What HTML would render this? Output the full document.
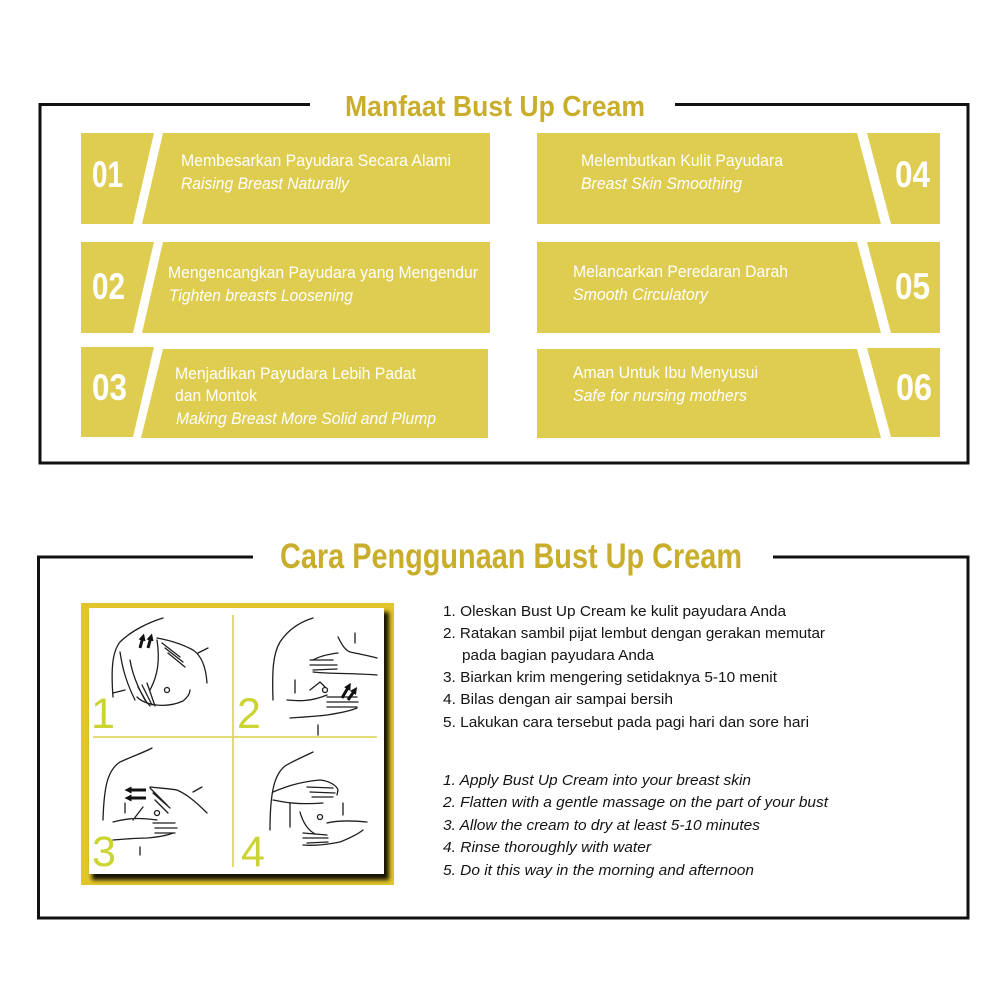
<!DOCTYPE html>
<html><head><meta charset="utf-8"><style>
html,body{margin:0;padding:0;background:#fff;}
svg{display:block;}
.t{font-family:"Liberation Sans",sans-serif;fill:#fff;font-size:17px;}
.i{font-style:italic;}
.n{font-family:"Liberation Sans",sans-serif;fill:#fff;font-weight:bold;font-size:37px;}
.h{font-family:"Liberation Sans",sans-serif;fill:#c9ae2c;font-weight:bold;}
.l{font-family:"Liberation Sans",sans-serif;fill:#141414;font-size:15px;}
.pn{font-family:"Liberation Sans",sans-serif;fill:#cbd431;font-size:43px;}
.d{fill:none;stroke:#1e1e1e;stroke-width:1.3;stroke-linecap:round;stroke-linejoin:round;}
</style></head><body>
<svg width="1000" height="1000" viewBox="0 0 1000 1000" xmlns="http://www.w3.org/2000/svg">
<defs>
<marker id="ah" markerWidth="2.4" markerHeight="2.4" refX="1.2" refY="1.2" orient="auto" markerUnits="strokeWidth">
<path d="M0,0 L2.4,1.2 L0,2.4 z" fill="#111"/></marker>
<filter id="blur" x="-10%" y="-10%" width="130%" height="130%"><feGaussianBlur stdDeviation="2"/></filter>
</defs>

<!-- TOP BOX -->
<g stroke="#111" stroke-width="3" fill="none">
<polyline points="310,104.5 40,104.5 40,463 968,463 968,104.5 675,104.5"/>
</g>
<text class="h" x="345" y="116" font-size="29" textLength="300" lengthAdjust="spacingAndGlyphs">Manfaat Bust Up Cream</text>

<g fill="#dfcd52">
<polygon points="81,133 154,133 133,224 81,224"/>
<polygon points="163,133 490,133 490,224 142,224"/>
<polygon points="81,242 154,242 133,333 81,333"/>
<polygon points="163,242 490,242 490,333 142,333"/>
<polygon points="81,347 154,347 133,437 81,437"/>
<polygon points="163,349 488,349 488,438 141,438"/>
<polygon points="537,133 857,133 881,224 537,224"/>
<polygon points="867,133 940,133 940,224 891,224"/>
<polygon points="537,242 857,242 881,333 537,333"/>
<polygon points="867,242 940,242 940,333 891,333"/>
<polygon points="537,349 857,349 881,438 537,438"/>
<polygon points="867,348 940,348 940,437 891,437"/>
</g>

<text class="n" x="92" y="187" textLength="31" lengthAdjust="spacingAndGlyphs">01</text>
<text class="n" x="92" y="299" textLength="33" lengthAdjust="spacingAndGlyphs">02</text>
<text class="n" x="92" y="400" textLength="35" lengthAdjust="spacingAndGlyphs">03</text>
<text class="n" x="895" y="187" textLength="35" lengthAdjust="spacingAndGlyphs">04</text>
<text class="n" x="895" y="299" textLength="35" lengthAdjust="spacingAndGlyphs">05</text>
<text class="n" x="896" y="400" textLength="36" lengthAdjust="spacingAndGlyphs">06</text>

<text class="t" x="181" y="166" textLength="270" lengthAdjust="spacingAndGlyphs">Membesarkan Payudara Secara Alami</text>
<text class="t i" x="181" y="189" textLength="168" lengthAdjust="spacingAndGlyphs">Raising Breast Naturally</text>

<text class="t" x="168" y="278" textLength="310" lengthAdjust="spacingAndGlyphs">Mengencangkan Payudara yang Mengendur</text>
<text class="t i" x="169" y="301" textLength="184" lengthAdjust="spacingAndGlyphs">Tighten breasts Loosening</text>

<text class="t" x="175" y="379" textLength="241" lengthAdjust="spacingAndGlyphs">Menjadikan Payudara Lebih Padat</text>
<text class="t" x="175" y="401" textLength="82" lengthAdjust="spacingAndGlyphs">dan Montok</text>
<text class="t i" x="176" y="424" textLength="260" lengthAdjust="spacingAndGlyphs">Making Breast More Solid and Plump</text>

<text class="t" x="581" y="166" textLength="202" lengthAdjust="spacingAndGlyphs">Melembutkan Kulit Payudara</text>
<text class="t i" x="581" y="189" textLength="161" lengthAdjust="spacingAndGlyphs">Breast Skin Smoothing</text>

<text class="t" x="573" y="277" textLength="215" lengthAdjust="spacingAndGlyphs">Melancarkan Peredaran Darah</text>
<text class="t i" x="573" y="300" textLength="135" lengthAdjust="spacingAndGlyphs">Smooth Circulatory</text>

<text class="t" x="573" y="378" textLength="185" lengthAdjust="spacingAndGlyphs">Aman Untuk Ibu Menyusui</text>
<text class="t i" x="573" y="401" textLength="174" lengthAdjust="spacingAndGlyphs">Safe for nursing mothers</text>

<!-- BOTTOM BOX -->
<g stroke="#111" stroke-width="3" fill="none">
<polyline points="253,557 38.5,557 38.5,918 968,918 968,557 773,557"/>
</g>
<text class="h" x="280" y="568" font-size="35" textLength="462" lengthAdjust="spacingAndGlyphs">Cara Penggunaan Bust Up Cream</text>

<rect x="81" y="603" width="313" height="282" fill="#e2c52a"/>
<rect x="92" y="612" width="297" height="268" fill="#000" filter="url(#blur)" opacity="0.9"/>
<rect x="89" y="608" width="295" height="266" fill="#fff"/>
<line x1="233" y1="615" x2="233" y2="867" stroke="#dcd24d" stroke-width="1.6"/>
<line x1="93" y1="737" x2="377" y2="737" stroke="#dcd24d" stroke-width="1.6"/>
<text class="pn" x="91" y="728">1</text>
<text class="pn" x="237" y="728">2</text>
<text class="pn" x="92" y="866">3</text>
<text class="pn" x="241" y="866">4</text>

<!-- panel 1 -->
<g class="d">
<path d="M163,618 C150,622 132,630 120,642 C112,652 111,670 113,697"/>
<path d="M120,652 C122,665 125,680 135,700"/>
<path d="M113,693 L125,690"/>
<path d="M137,697 C145,705 165,709 183,701 C188,697 190,693 190,690"/>
<path d="M157,638 C168,640 182,644 193,650 C202,656 206,668 207,683"/>
<path d="M198,653 L208,648"/>
<path d="M162,643 L180,657 M165,648 L183,662 M168,653 L185,667 M157,640 C160,660 158,675 150,690"/>
<path d="M130,660 C132,672 136,684 145,700 L150,706 M138,687 L147,703 M142,685 L152,705 M147,683 L155,706"/>
<circle cx="167" cy="690" r="2.5"/>
</g>
<g stroke="#111" stroke-width="3" marker-end="url(#ah)">
<line x1="140" y1="648" x2="143" y2="637"/>
<line x1="148" y1="648" x2="151" y2="637"/>
</g>

<!-- panel 2 -->
<g class="d">
<path d="M313,618 C300,622 288,630 280,642 C273,654 272,670 273,700"/>
<path d="M338,637 C342,645 345,650 350,652 C360,654 370,656 377,658"/>
<path d="M313,660 C320,656 330,654 338,653"/>
<path d="M310,660 L333,660 M310,665 L337,665 M313,670 L337,669"/>
<path d="M313,672 C330,674 350,673 377,675"/>
<path d="M355,633 L355,643"/>
<path d="M287,700 C298,701 310,702 327,695 M310,690 L320,682 L325,687"/>
<path d="M327,697 L357,697 M327,702 L358,702 M327,707 L357,707"/>
<path d="M290,718 C305,717 320,716 327,715 C340,713 350,711 357,708"/>
<path d="M295,680 L295,693 M318,725 L318,735"/>
<circle cx="325" cy="690" r="2.5"/>
</g>
<g stroke="#111" stroke-width="3" marker-end="url(#ah)">
<line x1="342" y1="698" x2="349" y2="686"/>
<line x1="348" y1="700" x2="355" y2="690"/>
</g>

<!-- panel 3 -->
<g class="d">
<path d="M152,748 C145,752 133,756 120,762 C108,770 104,785 103,820"/>
<path d="M150,787 C160,788 172,789 177,790 C186,794 194,800 207,813"/>
<path d="M193,792 L202,787"/>
<path d="M150,788 L167,805 M153,793 L170,808 M155,800 L168,813"/>
<path d="M113,822 C125,819 135,817 157,820 M133,820 L143,807"/>
<path d="M153,823 L175,823 M155,828 L177,828 M155,833 L175,833"/>
<path d="M113,840 C125,839 140,838 147,838 C160,837 168,835 173,833"/>
<path d="M125,803 L125,813 M140,855 L140,847"/>
<circle cx="157" cy="813" r="2.5"/>
</g>
<g stroke="#111" stroke-width="3" marker-end="url(#ah)">
<line x1="146" y1="790" x2="128" y2="790"/>
<line x1="146" y1="798" x2="128" y2="798"/>
</g>

<!-- panel 4 -->
<g class="d">
<path d="M313,752 C305,756 295,760 285,766 C275,774 270,790 270,830"/>
<path d="M273,792 C283,788 297,782 320,780 C330,781 337,786 338,790 L337,795"/>
<path d="M307,787 L333,788 M310,792 L335,793 M312,797 L333,797"/>
<path d="M273,800 C283,802 297,805 323,803"/>
<path d="M290,803 L290,827 M343,803 L343,815"/>
<path d="M300,812 C303,823 308,830 315,834"/>
<path d="M303,833 L327,835 M303,838 L328,838 M307,843 L328,842"/>
<path d="M327,823 C335,821 347,820 367,822"/>
<path d="M303,845 C315,846 330,844 340,842 C350,838 358,834 363,830"/>
<circle cx="320" cy="817" r="2.5"/>
</g>

<text class="l" x="443" y="616" textLength="343" lengthAdjust="spacingAndGlyphs">1. Oleskan Bust Up Cream ke kulit payudara Anda</text>
<text class="l" x="443" y="638" textLength="382" lengthAdjust="spacingAndGlyphs">2. Ratakan sambil pijat lembut dengan gerakan memutar</text>
<text class="l" x="462" y="660" textLength="192" lengthAdjust="spacingAndGlyphs">pada bagian payudara Anda</text>
<text class="l" x="443" y="682" textLength="334" lengthAdjust="spacingAndGlyphs">3. Biarkan krim mengering setidaknya 5-10 menit</text>
<text class="l" x="443" y="704" textLength="230" lengthAdjust="spacingAndGlyphs">4. Bilas dengan air sampai bersih</text>
<text class="l" x="443" y="727" textLength="366" lengthAdjust="spacingAndGlyphs">5. Lakukan cara tersebut pada pagi hari dan sore hari</text>

<text class="l i" x="443" y="785" textLength="308" lengthAdjust="spacingAndGlyphs">1. Apply Bust Up Cream into your breast skin</text>
<text class="l i" x="443" y="807" textLength="385" lengthAdjust="spacingAndGlyphs">2. Flatten with a gentle massage on the part of your bust</text>
<text class="l i" x="443" y="830" textLength="317" lengthAdjust="spacingAndGlyphs">3. Allow the cream to dry at least 5-10 minutes</text>
<text class="l i" x="443" y="852" textLength="208" lengthAdjust="spacingAndGlyphs">4. Rinse thoroughly with water</text>
<text class="l i" x="443" y="875" textLength="311" lengthAdjust="spacingAndGlyphs">5. Do it this way in the morning and afternoon</text>
</svg>
</body></html>
